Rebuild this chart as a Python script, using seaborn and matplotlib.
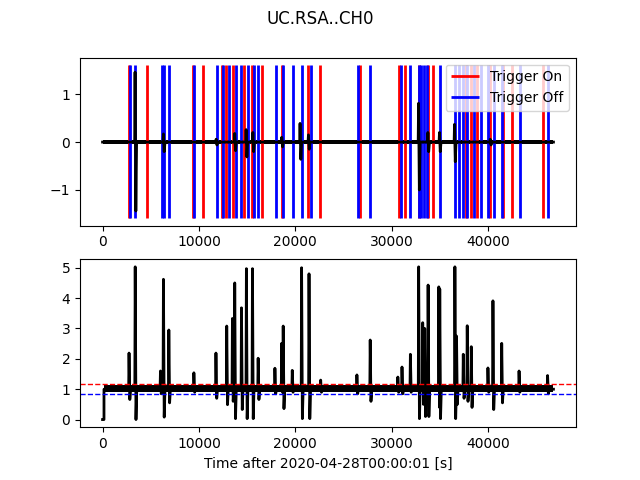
import numpy as np
import pandas as pd
import matplotlib
matplotlib.use("Agg")
import matplotlib.pyplot as plt
import seaborn as sns

title = "UC.RSA..CH0"
xlabel = "Time after 2020-04-28T00:00:01 [s]"

t_start = 0
t_end = 46800
lta_end = 150  # cft stays at zero until the LTA window is filled

# raw trace: thin noise band plus a few bursts (time, upper, lower)
trace_noise = 0.045
burst_t = [3375, 6320, 11790, 13720, 14900, 15600, 18600, 20500, 21370,
           32800, 33770, 34970, 36530, 40240]
burst_hi = [1.46, 0.17, 0.06, 0.18, 0.26, 0.20, 0.10, 0.39, 0.15,
            0.81, 0.20, 0.20, 0.37, 0.06]
burst_lo = [-1.44, -0.20, -0.06, -0.18, -0.31, -0.20, -0.10, -0.36, -0.15,
            -1.00, -0.20, -0.20, -0.41, -0.06]

# STA/LTA characteristic function: noise band plus spikes (time, peak, dip)
cft_band = (0.91, 1.13)
spike_t = [2750, 3390, 6010, 6320, 6880, 9480, 11770, 12890, 13480, 13720,
           14420, 14930, 15560, 16150, 17890, 18590, 18750, 19690, 20660, 21430,
           22640, 26400, 27780, 30650, 31080, 31950, 32810, 33230, 33440, 33790,
           34900, 35000, 36570, 36740, 37440, 37850, 38270, 40000, 40520, 41430,
           43230, 46190]
spike_peak = [2.19, 5.03, 1.60, 4.62, 2.95, 1.54, 2.19, 3.08, 3.33, 4.50,
              3.68, 4.97, 4.97, 2.02, 1.69, 2.51, 3.08, 1.62, 5.00, 4.80,
              1.30, 1.47, 2.62, 1.40, 1.73, 2.15, 5.03, 3.19, 3.00, 4.43,
              4.37, 4.30, 5.03, 2.75, 2.15, 3.09, 2.40, 1.70, 3.91, 2.51,
              1.60, 1.45]
spike_dip = [0.66, 0.00, 0.85, 0.08, 0.55, 0.90, 0.70, 0.49, 0.60, 0.03,
             0.33, 0.03, 0.03, 0.66, 0.85, 0.90, 0.36, 0.90, 0.03, 0.03,
             0.90, 0.85, 0.60, 0.90, 0.85, 0.90, 0.03, 0.50, 0.10, 0.10,
             0.40, 0.03, 0.03, 0.50, 0.70, 0.60, 0.40, 0.90, 0.33, 0.55,
             0.90, 0.85]

thr_on = 1.18
thr_off = 0.84

trig_on = [2708, 4583, 9417, 10417, 12438, 12781, 13542, 14729, 15563, 16531,
           18584, 21354, 22573, 26740, 30730, 31354, 32886, 33823, 34313,
           37677, 38198, 38896, 40177, 41604, 42500, 45667]
trig_off = [2885, 3375, 6188, 6427, 6948, 9521, 11875, 12542, 13094, 13823,
            14344, 15073, 15771, 16146, 17990, 18750, 19792, 20729, 21667,
            26563, 27781, 30979, 31948, 32813, 33094, 33406, 33719, 35000,
            36531, 36948, 37438, 37854, 38510, 39240, 40000, 40625, 41500,
            43333, 46250]


def spike_frame(times, highs, lows, base, head, tail):
    # turn the event lists into one polyline that returns to the baseline
    xs, ys = list(head[0]), list(head[1])
    for t, hi, lo in zip(times, highs, lows):
        xs += [t - 40, t, t + 80, t + 160]
        ys += [base, hi, lo, base]
    xs += tail[0]
    ys += tail[1]
    return pd.DataFrame({"t": xs, "v": ys})


trace_df = spike_frame(burst_t, burst_hi, burst_lo, 0.0,
                       ([t_start], [0.0]), ([t_end], [0.0]))
cft_df = spike_frame(spike_t, spike_peak, spike_dip, 1.0,
                     ([t_start, lta_end, lta_end], [0.0, 0.0, 1.0]),
                     ([t_end], [1.0]))

fig = plt.figure(figsize=(6.4, 4.8), dpi=100)
ax1 = fig.add_subplot(211)
ax2 = fig.add_subplot(212, sharex=ax1)

# top: trace with trigger marks
ax1.fill_between([t_start, t_end], -trace_noise, trace_noise, color="k", lw=0)
sns.lineplot(data=trace_df, x="t", y="v", ax=ax1, color="k", lw=2,
             estimator=None, sort=False)
ymin, ymax = ax1.get_ylim()
ax1.vlines(trig_on, ymin, ymax, color="r", lw=2, label="Trigger On", zorder=1.5)
ax1.vlines(trig_off, ymin, ymax, color="b", lw=2, label="Trigger Off", zorder=1.5)
ax1.legend(loc="upper right")
ax1.set_xlabel("")
ax1.set_ylabel("")

# bottom: characteristic function with thresholds
ax2.fill_between([lta_end, t_end], cft_band[0], cft_band[1], color="k", lw=0)
sns.lineplot(data=cft_df, x="t", y="v", ax=ax2, color="k", lw=2,
             estimator=None, sort=False)
ax2.axhline(thr_on, color="red", lw=1, ls="--")
ax2.axhline(thr_off, color="blue", lw=1, ls="--")
ax2.set_xlabel(xlabel)
ax2.set_ylabel("")

fig.suptitle(title)
fig.savefig("out.png", dpi=100)
